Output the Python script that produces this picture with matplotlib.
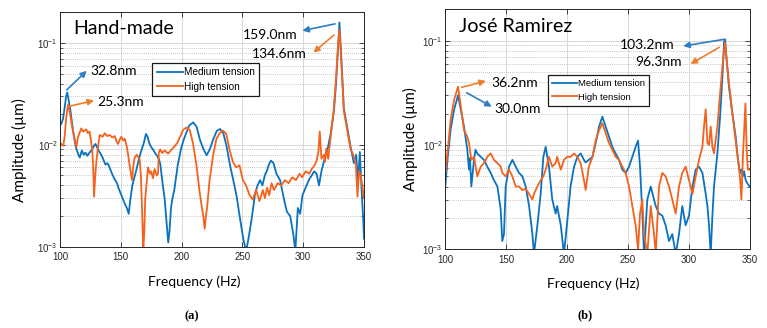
import numpy as np
import matplotlib
matplotlib.use("Agg")
import matplotlib.pyplot as plt

plt.rcParams['font.family'] = ['Liberation Sans', 'DejaVu Sans']

# (frequency Hz, amplitude um)
hand_medium = np.array([
    [100, 0.0155], [101, 0.016], [102.5, 0.018], [104, 0.024], [105, 0.030],
    [106, 0.0327], [107, 0.028], [108.5, 0.022], [110, 0.016], [111.5, 0.012],
    [113, 0.0095], [114.8, 0.0082], [116.2, 0.0075], [118, 0.0088], [119.5, 0.0080],
    [120.9, 0.0084], [122.5, 0.0078], [123.7, 0.0082], [125, 0.0086], [126.4, 0.0090],
    [128, 0.0098], [129.2, 0.0102], [131, 0.0092], [132.5, 0.0085], [134.6, 0.0077],
    [136, 0.0070], [137.4, 0.0064], [139, 0.0066], [140, 0.0063], [141.5, 0.0057],
    [142.8, 0.0052], [144.5, 0.0047], [146.9, 0.0042], [148, 0.0038], [149.6, 0.0034],
    [151, 0.0031], [152.4, 0.0028], [153.5, 0.0026], [155, 0.0024], [156.5, 0.0021],
    [158, 0.0030], [159.5, 0.0040], [160.6, 0.0045], [162.5, 0.0055], [164.7, 0.0071],
    [166.5, 0.0085], [168.8, 0.0103], [170.7, 0.0128], [172, 0.0120], [173.5, 0.0103],
    [175, 0.0095], [177, 0.0088], [178.5, 0.0082], [179.8, 0.0078], [181, 0.0074],
    [182.5, 0.0065], [184, 0.0045], [186, 0.0030], [187.5, 0.0018], [189, 0.0011],
    [190, 0.0014], [191.3, 0.0024], [192.5, 0.0030], [194, 0.0036], [196.8, 0.0063],
    [199.5, 0.0091], [201.5, 0.0110], [203.6, 0.0129], [206.3, 0.0155], [209.6, 0.0166],
    [212.4, 0.0150], [215, 0.0113], [217.9, 0.0091], [220.6, 0.0079], [223.3, 0.0091],
    [226, 0.0113], [228.9, 0.0137], [231.6, 0.0143], [234.3, 0.0130], [237, 0.0097],
    [239.8, 0.0063], [242.5, 0.0045], [245.3, 0.0031], [248, 0.0019], [250.7, 0.0012],
    [253, 0.0009], [255, 0.0012], [257.7, 0.0019], [260.4, 0.0033], [262.5, 0.0040],
    [264.5, 0.0045], [266.5, 0.0040], [268.6, 0.0051], [270, 0.0055], [272, 0.0065],
    [273.5, 0.0070], [275.6, 0.0066], [278, 0.0052], [281, 0.0045], [284, 0.0030],
    [286.6, 0.0022], [289.3, 0.0020], [292, 0.0013], [293.5, 0.0009], [295.6, 0.0024],
    [297.5, 0.0021], [299.4, 0.0032], [302, 0.0038], [305, 0.0046], [307, 0.0050],
    [309, 0.0055], [311, 0.0052], [313, 0.0040], [315, 0.0055], [318, 0.0076],
    [320, 0.0090], [322.6, 0.0129], [325.3, 0.0216], [327, 0.040], [328, 0.066],
    [329.8, 0.159], [331.5, 0.066], [333.4, 0.023], [336.2, 0.0148], [339, 0.0095],
    [341.7, 0.0066], [343.6, 0.0080], [345, 0.0043], [346.6, 0.0085], [348, 0.0037],
    [349.4, 0.0018], [350, 0.0012],
])

hand_high = np.array([
    [100, 0.0106], [101.5, 0.0100], [102.7, 0.0098], [104, 0.0125], [105, 0.018],
    [106.6, 0.0248], [108, 0.021], [110, 0.015], [112, 0.0115], [113.5, 0.0095],
    [114.8, 0.0119], [116, 0.0130], [117.5, 0.0145], [119, 0.0135], [121.6, 0.0142],
    [123, 0.0130], [124.3, 0.0135], [125.5, 0.0110], [126.5, 0.0090], [127.3, 0.0060],
    [128, 0.0031], [129, 0.0050], [130, 0.0071], [131.5, 0.0100], [132.7, 0.0125],
    [135, 0.0120], [136.8, 0.0130], [139, 0.0122], [140.9, 0.0125], [143, 0.0118],
    [145, 0.0122], [146.5, 0.0108], [147.7, 0.0102], [149, 0.0112], [150.4, 0.0120],
    [152, 0.0110], [153.2, 0.0115], [155, 0.0095], [155.9, 0.0082], [157.5, 0.0060],
    [159.2, 0.0045], [160.5, 0.0065], [161.4, 0.0075], [163, 0.0080], [165.5, 0.0072],
    [166.5, 0.0050], [167.4, 0.0025], [168.5, 0.0009], [169.3, 0.0014], [170.1, 0.0030],
    [171.5, 0.0045], [172.3, 0.0060], [174, 0.0052], [175, 0.0055], [176.5, 0.0047],
    [177.8, 0.0058], [179.5, 0.0050], [180.6, 0.0052], [181.3, 0.0085], [182.5, 0.0090],
    [184, 0.0083], [186, 0.0088], [189, 0.0082], [191, 0.0088], [194.4, 0.0097],
    [196.5, 0.0105], [198.5, 0.0118], [201.2, 0.0140], [204, 0.0148], [206.7, 0.0140],
    [209.4, 0.0103], [212.2, 0.0063], [214.9, 0.0034], [216.5, 0.0025], [217.6, 0.0021],
    [219, 0.0015], [220, 0.0020], [221.1, 0.0025], [223, 0.0045], [225.8, 0.0077],
    [228.5, 0.0113], [231.2, 0.0130], [234, 0.0138], [236.7, 0.0128], [239.4, 0.0090],
    [242.2, 0.0068], [244.9, 0.0060], [247.6, 0.0063], [250.4, 0.0045], [253, 0.0040],
    [255.9, 0.0032], [258.6, 0.0029], [261.3, 0.0036], [264, 0.0028], [266.8, 0.0036],
    [268.5, 0.0030], [270.3, 0.0038], [272, 0.0032], [274, 0.0042], [276, 0.0036],
    [279, 0.0042], [282, 0.0040], [285, 0.0045], [288, 0.0042], [291, 0.0048],
    [294, 0.0045], [297, 0.0052], [299, 0.0048], [302, 0.0055], [305, 0.0052],
    [307, 0.0058], [309, 0.0062], [311, 0.0070], [312.5, 0.0085], [313.6, 0.0135],
    [315, 0.0073], [317, 0.0080], [318, 0.0068], [319, 0.0092], [320.6, 0.0073],
    [322.5, 0.0118], [325, 0.0216], [327, 0.045], [328.7, 0.097], [329.8, 0.1346],
    [331.5, 0.060], [333.4, 0.0216], [336.2, 0.0140], [339, 0.0090], [341, 0.0081],
    [343.3, 0.0065], [344.6, 0.0031], [346, 0.0055], [347.4, 0.0049], [348.8, 0.0038],
    [350, 0.0030],
])

jose_medium = np.array([
    [100, 0.0037], [102, 0.0072], [104.6, 0.014], [107.4, 0.0217], [110.7, 0.030],
    [113, 0.0217], [115.6, 0.015], [118.3, 0.009], [119.7, 0.0058], [120.5, 0.0075],
    [121.6, 0.0040], [123.8, 0.0072], [125, 0.0090], [126.5, 0.0083], [129.3, 0.0077],
    [132, 0.0072], [134.7, 0.0062], [137.5, 0.0054], [140.2, 0.0046], [143, 0.0040],
    [145.7, 0.0024], [147, 0.0012], [148.4, 0.0014], [149.8, 0.0040], [152.5, 0.0062],
    [155.3, 0.0072], [158, 0.0062], [160.7, 0.0054], [163.5, 0.0050], [166.2, 0.0040],
    [169, 0.0026], [171.7, 0.0014], [173, 0.0009], [175.8, 0.0017], [178.5, 0.0034],
    [180.7, 0.0077], [182.6, 0.0096], [185.3, 0.0062], [188, 0.0030], [190.8, 0.0022],
    [192, 0.0026], [195, 0.0017], [197.6, 0.0009], [200.4, 0.0019], [203, 0.0040],
    [205.9, 0.0062], [208.6, 0.0077], [211.3, 0.0083], [214, 0.0072], [215.4, 0.0068],
    [218, 0.0072], [221, 0.0077], [223.6, 0.0104], [226.4, 0.0150], [229.1, 0.0187],
    [231.8, 0.0150], [234.6, 0.0120], [237.3, 0.0096], [240, 0.0083], [242.8, 0.0072],
    [245.5, 0.0058], [248.2, 0.0054], [251, 0.0062], [253.7, 0.0077], [256.4, 0.0096],
    [258.4, 0.0110], [260, 0.0062], [261.9, 0.0022], [263.3, 0.0009], [266, 0.0030],
    [268.8, 0.0040], [271.5, 0.0030], [272.9, 0.0026], [275.6, 0.0022], [278.3, 0.0021],
    [281, 0.0017], [283.8, 0.0012], [286.5, 0.0014], [289.3, 0.0009], [292, 0.0014],
    [294.7, 0.0026], [297.4, 0.0017], [300.2, 0.0021], [303, 0.0040], [305.7, 0.0058],
    [308.4, 0.0062], [311.2, 0.0054], [313.9, 0.0034], [315.3, 0.0026], [316.6, 0.0017],
    [318, 0.0009], [319.4, 0.0021], [320.7, 0.0040], [323.5, 0.0083], [325.7, 0.0187],
    [327.6, 0.045], [329, 0.098], [329.8, 0.1032], [331.1, 0.065], [333, 0.036],
    [335.8, 0.020], [338.5, 0.012], [340.4, 0.0072], [342, 0.0054], [343.2, 0.0058],
    [344.3, 0.0050], [345.4, 0.0056], [346.7, 0.0046], [348, 0.0043], [350, 0.0040],
])

jose_high = np.array([
    [100, 0.0050], [102, 0.0084], [104.6, 0.0173], [107.4, 0.027], [110.7, 0.0362],
    [113, 0.0233], [115.6, 0.0139], [118.3, 0.0120], [119.7, 0.0104], [121.6, 0.0072],
    [123.8, 0.0077], [126.5, 0.0050], [129.3, 0.0062], [132, 0.0067], [134.7, 0.0077],
    [137.5, 0.0083], [140.2, 0.0072], [143, 0.0067], [145.7, 0.0062], [147, 0.0054],
    [149.8, 0.0050], [152.5, 0.0058], [155.3, 0.0050], [158, 0.0040], [160.7, 0.0040],
    [163.5, 0.0037], [166.2, 0.0038], [169, 0.0034], [171.7, 0.0030], [173, 0.0034],
    [175.8, 0.0040], [178.5, 0.0046], [180.7, 0.0050], [182.6, 0.0058], [185.3, 0.0077],
    [188, 0.0062], [190.8, 0.0067], [192, 0.0077], [195, 0.0058], [197.6, 0.0072],
    [200.4, 0.0077], [203, 0.0077], [205.9, 0.0083], [208.6, 0.0077], [211.3, 0.0067],
    [214, 0.0046], [215.4, 0.0037], [218, 0.0062], [221, 0.0077], [223.6, 0.0110],
    [226.4, 0.0139], [229.1, 0.0162], [231.8, 0.0130], [234.6, 0.0104], [237.3, 0.0090],
    [240, 0.0077], [242.8, 0.0072], [245.5, 0.0062], [248.2, 0.0054], [251, 0.0040],
    [253.7, 0.0026], [256.4, 0.0017], [258.4, 0.0010], [260, 0.0022], [261.9, 0.0030],
    [263.3, 0.0014], [266, 0.0009], [268.8, 0.0026], [271.5, 0.0014], [272.9, 0.0009],
    [275.6, 0.0040], [278.3, 0.0054], [281, 0.0050], [283.8, 0.0040], [286.5, 0.0030],
    [289.3, 0.0022], [292, 0.0040], [294.7, 0.0054], [297.4, 0.0062], [300.2, 0.0046],
    [303, 0.0034], [305.7, 0.0050], [308.4, 0.0072], [311.2, 0.0096], [312.5, 0.0150],
    [313.9, 0.0220], [315.3, 0.0104], [316.6, 0.0100], [318, 0.0150], [319.4, 0.0096],
    [320.7, 0.0083], [323.5, 0.0150], [325.7, 0.031], [327.6, 0.056], [329, 0.081],
    [329.8, 0.0963], [331.1, 0.065], [333, 0.039], [335.8, 0.020], [338.5, 0.011],
    [340.4, 0.0072], [342, 0.0050], [343.2, 0.0030], [344.5, 0.0080], [346.5, 0.0250],
    [347.5, 0.0090], [348.5, 0.0058], [350, 0.0058],
])

labels = ['Medium tension', 'High tension']
line_colors = ['#0a72c0', '#f5621c']
arrow_colors = ['#2e7dc4', '#f07d2a']
x_ticks = [100, 150, 200, 250, 300, 350]

# peak notes: (text, text position, arrow tail, arrow head, colour index)
notes_a = [
    ('159.0nm', (273.1, 0.120), (326.2, 0.154), (299.3, 0.132), 0),
    ('134.6nm', (280.5, 0.0776), (325.3, 0.1197), (308.3, 0.0804), 1),
    ('32.8nm', (143.8, 0.0527), (105.5, 0.0346), (122.0, 0.0533), 0),
    ('25.3nm', (150.0, 0.0264), (106.8, 0.0238), (128.0, 0.0272), 1),
]
notes_b = [
    ('103.2nm', (265.5, 0.090), (328.9, 0.103), (295.5, 0.0889), 0),
    ('96.3nm', (275.4, 0.0622), (325.0, 0.0865), (301.5, 0.0598), 1),
    ('36.2nm', (156.8, 0.0397), (113.7, 0.0357), (133.6, 0.0411), 1),
    ('30.0nm', (159.5, 0.0222), (117.8, 0.0317), (138.3, 0.0233), 0),
]

W, H = 767, 328
fig = plt.figure(figsize=(W / 100, H / 100), dpi=100)
ax_a = fig.add_axes([60 / W, 1 - 246.7 / H, 304 / W, 234.4 / H])
ax_b = fig.add_axes([445 / W, 1 - 249.3 / H, 304.7 / W, 240 / H])


def draw_panel(ax, med, high, title, title_fs, notes, leg_anchor, leg_fs):
    for data, lab, col in zip([med, high], labels, line_colors):
        ax.plot(data[:, 0], data[:, 1], color=col, lw=1.3, label=lab)
    ax.set_yscale('log')
    ax.set_xlim(100, 350)
    ax.set_ylim(1e-3, 0.2)
    ax.set_xticks(x_ticks)
    ax.set_axisbelow(True)
    ax.grid(True, which='major', color='#d9d9d9', lw=0.7, ls='-')
    ax.grid(True, which='minor', axis='y', color='#b5b5b5', lw=0.6, ls=(0, (1, 1.5)))
    ax.tick_params(which='both', direction='in', top=True, right=True,
                   labelsize=7, colors='#262626')
    ax.tick_params(axis='x', pad=4)
    ax.tick_params(axis='y', pad=1.5)
    ax.tick_params(which='major', length=3.5, width=0.6)
    ax.tick_params(which='minor', length=2, width=0.5)
    for sp in ax.spines.values():
        sp.set_color('#262626')
        sp.set_linewidth(0.7)

    ax.text(0.045, 0.93, title, transform=ax.transAxes, fontsize=title_fs,
            family='Lato', va='center', ha='left', color='black')
    for txt, tpos, tail, head, ci in notes:
        ax.text(tpos[0], tpos[1], txt, fontsize=10, family='Lato',
                ha='center', va='center', color='black')
        ax.annotate('', xy=head, xytext=tail,
                    arrowprops=dict(arrowstyle='-|>', color=arrow_colors[ci], lw=1.2,
                                    mutation_scale=9, shrinkA=0, shrinkB=0))

    leg = ax.legend(loc='upper left', bbox_to_anchor=leg_anchor, fontsize=leg_fs,
                    frameon=True, fancybox=False, framealpha=1, edgecolor='#1a1a1a',
                    borderaxespad=0, handlelength=2.6, handletextpad=0.15,
                    labelspacing=0.45, borderpad=0.45)
    leg.get_frame().set_linewidth(0.9)


draw_panel(ax_a, hand_medium, hand_high, 'Hand-made', 14, notes_a, (0.303, 0.784), 7.2)
draw_panel(ax_b, jose_medium, jose_high, 'José Ramirez', 14.2, notes_b, (0.338, 0.726), 6.8)

for (x, y), txt in zip([(194.7, 282), (593.7, 284)], ['Frequency (Hz)'] * 2):
    fig.text(x / W, 1 - y / H, txt, fontsize=10, family='Lato', ha='center', va='center')
for (x, y) in [(19, 150), (410, 139)]:
    fig.text(x / W, 1 - y / H, 'Amplitude (µm)', fontsize=11, family='Lato',
             ha='center', va='center', rotation=90)
for (x, y), txt in zip([(192, 316), (585, 315)], ['(a)', '(b)']):
    fig.text(x / W, 1 - y / H, txt, fontsize=9, family='Liberation Serif',
             weight='bold', ha='center', va='center')

fig.savefig('out.png', dpi=100)
